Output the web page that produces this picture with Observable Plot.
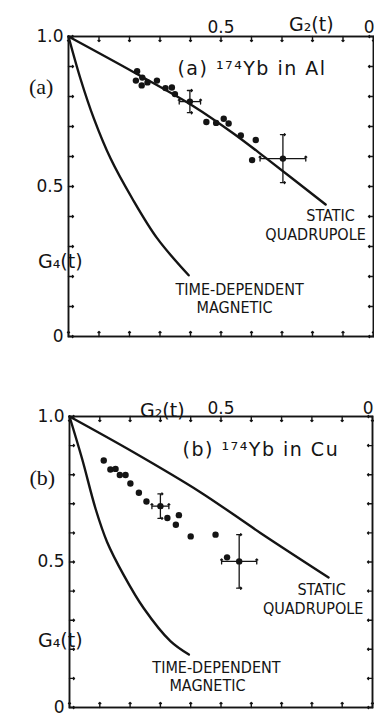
<!DOCTYPE html>
<html><head><meta charset="utf-8">
<script src="https://cdn.jsdelivr.net/npm/d3@7"></script>
<script src="https://cdn.jsdelivr.net/npm/@observablehq/plot@0.6"></script>
<style>
html,body{margin:0;padding:0;background:#fff;}
#chart{width:374px;}
#chart svg{display:block;}
</style></head><body><div id="chart"></div>
<script>
// ---- axis ticks ----
const tickValues = [1.0, 0.9, 0.8, 0.7, 0.6, 0.5, 0.4, 0.3, 0.2, 0.1, 0.0];
const xTickLabels = [0.5];
const xEdgeLabels = [0];
const yTickLabels = [1.0, 0.5, 0];

// ---- panel (a) 174Yb in Al ----
const quadA_g2 = [1.0, 0.786, 0.589, 0.458, 0.349, 0.157];
const quadA_g4 = [1.0, 0.881, 0.767, 0.676, 0.592, 0.440];
const magA_g2 = [1.0, 0.961, 0.917, 0.862, 0.791, 0.709, 0.606];
const magA_g4 = [1.0, 0.860, 0.727, 0.593, 0.460, 0.327, 0.204];
const dotsA_g2 = [0.775, 0.779, 0.758, 0.760, 0.741, 0.710, 0.682, 0.661, 0.651, 0.548, 0.516, 0.491, 0.475, 0.435, 0.386, 0.398];
const dotsA_g4 = [0.884, 0.853, 0.863, 0.837, 0.847, 0.853, 0.828, 0.830, 0.808, 0.715, 0.712, 0.726, 0.710, 0.670, 0.655, 0.588];
const errA_g2 = [0.602, 0.297];
const errA_g4 = [0.783, 0.593];
const errA_e2 = [0.035, 0.075];
const errA_e4 = [0.037, 0.080];

// ---- panel (b) 174Yb in Cu ----
const quadB_g2 = [1.0, 0.790, 0.568, 0.370, 0.145];
const quadB_g4 = [1.0, 0.878, 0.740, 0.600, 0.447];
const magB_g2 = [1.0, 0.958, 0.914, 0.876, 0.821, 0.755, 0.667, 0.606];
const magB_g4 = [1.0, 0.853, 0.683, 0.569, 0.455, 0.341, 0.228, 0.182];
const dotsB_g2 = [0.887, 0.865, 0.848, 0.834, 0.815, 0.799, 0.771, 0.746, 0.677, 0.639, 0.649, 0.600, 0.518, 0.480];
const dotsB_g4 = [0.849, 0.818, 0.820, 0.799, 0.799, 0.770, 0.738, 0.708, 0.651, 0.661, 0.628, 0.588, 0.594, 0.516];
const errB_g2 = [0.700, 0.440];
const errB_g4 = [0.692, 0.502];
const errB_e2 = [0.028, 0.058];
const errB_e4 = [0.042, 0.092];

// ---- text ----
const titleA = "(a) ¹⁷⁴Yb in Al";
const titleB = "(b) ¹⁷⁴Yb in Cu";
const quadLabel = "STATIC\nQUADRUPOLE";
const magLabel = "TIME-DEPENDENT\nMAGNETIC";

const pts = (a, b) => a.map((v, i) => ({g2: v, g4: b[i]}));
const errs = (a, b, c, d) => a.map((v, i) => ({g2: v, g4: b[i], e2: c[i], e4: d[i]}));

const INK = "#141414";
const SANS = "DejaVu Sans, sans-serif";
const NARROW = "Liberation Sans Narrow, DejaVu Sans Condensed, sans-serif";
const fmt = d => d === 0 ? "0" : d.toFixed(1);

function panel(cfg) {
  const svg = Plot.plot({
    width: 374, height: cfg.height,
    marginLeft: cfg.ml, marginRight: cfg.mr, marginTop: cfg.mt, marginBottom: cfg.mb,
    x: {domain: [1, 0], axis: null, label: null},
    y: {domain: [0, 1], axis: null, label: null},
    style: {background: "white", color: INK},
    marks: [
      Plot.frame({stroke: INK, strokeWidth: 1.9}),
      Plot.vector(tickValues, {x: d => d, frameAnchor: "top", rotate: 180, length: 5, anchor: "start", stroke: INK, strokeWidth: 1.4}),
      Plot.vector(tickValues, {x: d => d, frameAnchor: "bottom", rotate: 0, length: 5, anchor: "start", stroke: INK, strokeWidth: 1.4}),
      Plot.vector(tickValues, {y: d => d, frameAnchor: "left", rotate: 90, length: 5, anchor: "start", stroke: INK, strokeWidth: 1.4}),
      Plot.vector(tickValues, {y: d => d, frameAnchor: "right", rotate: -90, length: 5, anchor: "start", stroke: INK, strokeWidth: 1.4}),
      Plot.axisX(xTickLabels, {anchor: "top", tickSize: 0, tickPadding: cfg.xpad, fontSize: 17, fontFamily: SANS, label: null, tickFormat: fmt}),
      Plot.axisX(xEdgeLabels, {anchor: "top", tickSize: 0, tickPadding: cfg.xpad, fontSize: 17, fontFamily: SANS, label: null, tickFormat: fmt, textAnchor: "end", dx: 1}),
      Plot.axisY(yTickLabels, {anchor: "left", tickSize: 0, tickPadding: 5, fontSize: 17, fontFamily: SANS, label: null, tickFormat: fmt}),
      Plot.line(cfg.quad, {x: "g2", y: "g4", curve: "catmull-rom", stroke: INK, strokeWidth: 2.4}),
      Plot.line(cfg.mag, {x: "g2", y: "g4", curve: "catmull-rom", stroke: INK, strokeWidth: 2.4}),
      Plot.link(cfg.errs, {x1: d => d.g2 - d.e2, x2: d => d.g2 + d.e2, y1: "g4", y2: "g4", stroke: INK, strokeWidth: 1.3}),
      Plot.link(cfg.errs, {x1: "g2", x2: "g2", y1: d => d.g4 - d.e4, y2: d => d.g4 + d.e4, stroke: INK, strokeWidth: 1.3}),
      Plot.vector(cfg.errs, {x: d => d.g2 - d.e2, y: "g4", rotate: 0, length: 5, anchor: "middle", stroke: INK, strokeWidth: 1.3}),
      Plot.vector(cfg.errs, {x: d => d.g2 + d.e2, y: "g4", rotate: 0, length: 5, anchor: "middle", stroke: INK, strokeWidth: 1.3}),
      Plot.vector(cfg.errs, {x: "g2", y: d => d.g4 - d.e4, rotate: 90, length: 5, anchor: "middle", stroke: INK, strokeWidth: 1.3}),
      Plot.vector(cfg.errs, {x: "g2", y: d => d.g4 + d.e4, rotate: 90, length: 5, anchor: "middle", stroke: INK, strokeWidth: 1.3}),
      Plot.dot(cfg.dots, {x: "g2", y: "g4", r: 3.2, fill: INK}),
      Plot.dot(cfg.errs, {x: "g2", y: "g4", r: 3.2, fill: INK}),
      Plot.text([cfg.title], {x: cfg.titlePos[0], y: cfg.titlePos[1], textAnchor: "start", fontSize: 19, fontFamily: SANS, fill: INK}),
      Plot.text(cfg.labels, {x: "g2", y: "g4", text: "text", textAnchor: "middle", lineHeight: 1.15, fontSize: 16, fontFamily: NARROW, fill: INK}),
      Plot.text([cfg.tag], {frameAnchor: "top-left", dx: cfg.tagOff[0], dy: cfg.tagOff[1], fontSize: 22, fontFamily: "Liberation Serif, serif", fill: INK}),
      Plot.text(["G₄(t)"], {frameAnchor: "top-left", dx: cfg.g4Off[0], dy: cfg.g4Off[1], fontSize: 19, fontFamily: SANS, fill: INK}),
      Plot.text(["G₂(t)"], {frameAnchor: "top-left", dx: cfg.g2Off[0], dy: cfg.g2Off[1], fontSize: 19, fontFamily: SANS, fill: INK})
    ]
  });
  const s = d3.select(svg);
  s.selectAll("text").filter(function() { return /Yb/.test(this.textContent); }).attr("letter-spacing", 1.5);
  // nudge one line of each two-line label as in the reference
  s.selectAll("text").each(function() {
    const t = this.textContent;
    const spans = d3.select(this).selectAll("tspan");
    if (spans.size() === 2) {
      if (t.startsWith("STATIC")) spans.filter((d, i) => i === 0).attr("dx", cfg.shiftQ);
      if (t.startsWith("TIME")) spans.filter((d, i) => i === 1).attr("dx", cfg.shiftM);
    }
  });
  return svg;
}

const chart = document.getElementById("chart");
chart.append(panel({
  height: 372, ml: 68, mr: 1, mt: 36, mb: 36, xpad: 4,
  quad: pts(quadA_g2, quadA_g4), mag: pts(magA_g2, magA_g4), dots: pts(dotsA_g2, dotsA_g4),
  errs: errs(errA_g2, errA_g4, errA_e2, errA_e4),
  title: titleA, titlePos: [0.643, 0.893],
  labels: [
    {text: quadLabel, g2: 0.190, g4: 0.373},
    {text: magLabel, g2: 0.439, g4: 0.127}
  ],
  shiftQ: 15, shiftM: -5,
  tag: "(a)", tagOff: [-39.5, 42], g4Off: [-30.5, 218], g2Off: [220.5, -19]
}));
chart.append(panel({
  height: 355, ml: 69, mr: 2, mt: 44, mb: 20, xpad: 3,
  quad: pts(quadB_g2, quadB_g4), mag: pts(magB_g2, magB_g4), dots: pts(dotsB_g2, dotsB_g4),
  errs: errs(errB_g2, errB_g4, errB_e2, errB_e4),
  title: titleB, titlePos: [0.627, 0.884],
  labels: [
    {text: quadLabel, g2: 0.196, g4: 0.374},
    {text: magLabel, g2: 0.515, g4: 0.1075}
  ],
  shiftQ: 8.5, shiftM: -9,
  tag: "(b)", tagOff: [-40, 53], g4Off: [-31.5, 217], g2Off: [70.5, -13]
}));
</script></body></html>
